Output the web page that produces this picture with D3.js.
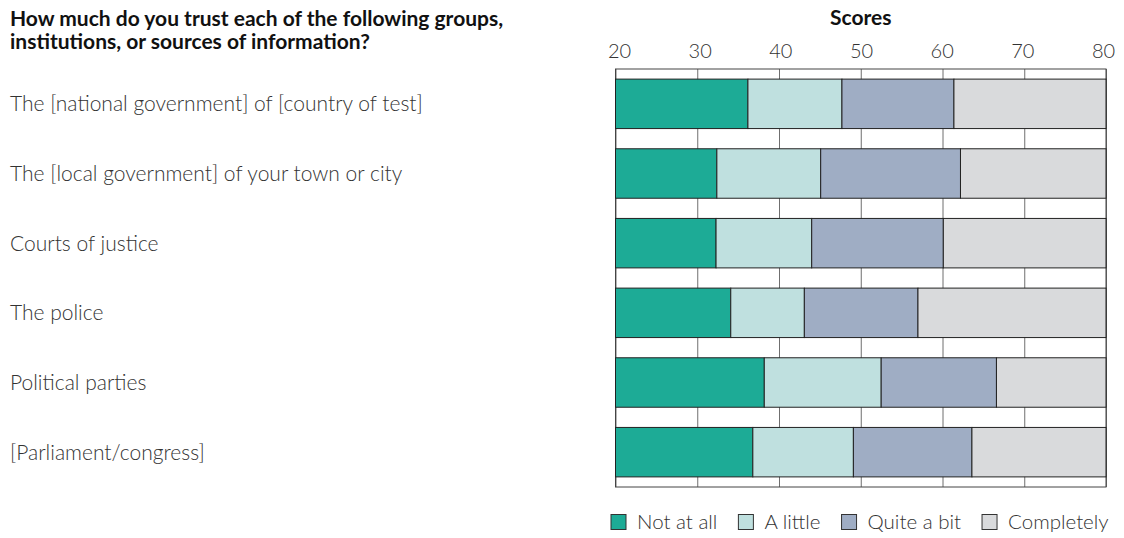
<!DOCTYPE html>
<html>
<head>
<meta charset="utf-8">
<script src="https://cdn.jsdelivr.net/npm/d3@7"></script>
<style>
  body { margin: 0; background: #fff; }
  svg { display: block; font-family: "Lato", "Open Sans", sans-serif; }
  .catLabel, .legendText, .tick text { font-weight: 300; fill: #333; }
  .title { font-weight: 700; fill: #111; }
</style>
</head>
<body>
<div id="chart"></div>
<script>
//chart values
var categories = [
    "The [national government] of [country of test]",
    "The [local government] of your town or city",
    "Courts of justice",
    "The police",
    "Political parties",
    "[Parliament/congress]"
];
var seriesNames = ["Not at all", "A little", "Quite a bit", "Completely"];
var seriesColors = ["#1dab96", "#bfe0df", "#9fadc4", "#d9dadc"];

//end of each segment on the Scores axis (bars start at 20)
var notAtAll = [36.2, 32.4, 32.3, 34.1, 38.2, 36.8];
var aLittle = [47.7, 45.1, 44.0, 43.1, 52.5, 49.1];
var quiteABit = [61.4, 62.2, 60.1, 57.0, 66.6, 63.6];
var completely = [80, 80, 80, 80, 80, 80];

var tickValues = [20, 30, 40, 50, 60, 70, 80];
var titleLines = [
    "How much do you trust each of the following groups,",
    "institutions, or sources of information?"
];

//svg size and plot box
var svgWidth = 1124;
var svgHeight = 538;
var plot = { left: 615.5, right: 1106, top: 69, bottom: 487 };

var svg = d3.select("#chart").append("svg")
    .attr("width", svgWidth)
    .attr("height", svgHeight);

//scales
var xScale = d3.scaleLinear().domain([20, 80]).range([plot.left, plot.right]);
var labelScale = d3.scaleLinear().domain([20, 80]).range([619, 1103]);
var yScale = d3.scaleBand()
    .domain(categories)
    .range([plot.top, plot.bottom])
    .paddingInner(0.29)
    .paddingOuter(0.145);

//build segments from the series arrays
var ends = [notAtAll, aLittle, quiteABit, completely];
var segments = [];
categories.forEach(function(cat, i) {
    var start = 20;
    ends.forEach(function(arr, s) {
        segments.push({ cat: cat, series: s, x0: start, x1: arr[i] });
        start = arr[i];
    });
});

//title (two lines)
svg.append("text")
    .attr("class", "title")
    .attr("x", 10)
    .attr("font-size", "21px")
    .selectAll("tspan")
    .data(titleLines)
    .enter()
    .append("tspan")
    .attr("x", 10)
    .attr("y", (d, i) => 26 + i * 23)
    .text(d => d);

//axis title
svg.append("text")
    .attr("class", "title")
    .attr("x", (plot.left + plot.right) / 2)
    .attr("y", 25)
    .attr("text-anchor", "middle")
    .attr("font-size", "21px")
    .text("Scores");

//top axis with gridlines
var xAxis = svg.append("g")
    .attr("transform", `translate(0, ${plot.top})`)
    .call(d3.axisTop(xScale)
        .tickValues(tickValues)
        .tickSize(-(plot.bottom - plot.top))
        .tickSizeOuter(0)
        .tickPadding(11));

xAxis.select(".domain").remove();
xAxis.selectAll(".tick line").attr("stroke", "#6f6f6f");
xAxis.selectAll(".tick text")
    .attr("font-size", "20px")
    .attr("font-family", "Lato, sans-serif")
    .attr("x", d => labelScale(d) - xScale(d));

//frame round the plot
svg.append("rect")
    .attr("x", plot.left)
    .attr("y", plot.top)
    .attr("width", plot.right - plot.left)
    .attr("height", plot.bottom - plot.top)
    .attr("fill", "none")
    .attr("stroke", "#444")
    .attr("stroke-width", 1);

//stacked bars
svg.append("g")
    .selectAll("rect")
    .data(segments)
    .enter()
    .append("rect")
    .attr("x", d => xScale(d.x0))
    .attr("y", d => yScale(d.cat))
    .attr("width", d => xScale(d.x1) - xScale(d.x0))
    .attr("height", yScale.bandwidth())
    .attr("fill", d => seriesColors[d.series])
    .attr("stroke", "#222")
    .attr("stroke-width", 1);

//category labels
svg.append("g")
    .selectAll("text")
    .data(categories)
    .enter()
    .append("text")
    .attr("class", "catLabel")
    .attr("x", 10)
    .attr("y", d => yScale(d) + yScale.bandwidth() / 2)
    .attr("dy", "0.35em")
    .attr("font-size", "21px")
    .text(d => d);

//legend
var legend = svg.append("g").attr("transform", "translate(611, 514.5)");
var legendX = 0;
seriesNames.forEach(function(name, i) {
    var item = legend.append("g").attr("transform", `translate(${legendX}, 0)`);
    item.append("rect")
        .attr("width", 15)
        .attr("height", 15)
        .attr("fill", seriesColors[i])
        .attr("stroke", "#333");
    var label = item.append("text")
        .attr("class", "legendText")
        .attr("x", 26)
        .attr("y", 7.5)
        .attr("dy", "0.35em")
        .attr("font-size", "20.5px")
        .text(name);
    legendX += 26 + label.node().getComputedTextLength() + 21;
});
</script>
</body>
</html>
